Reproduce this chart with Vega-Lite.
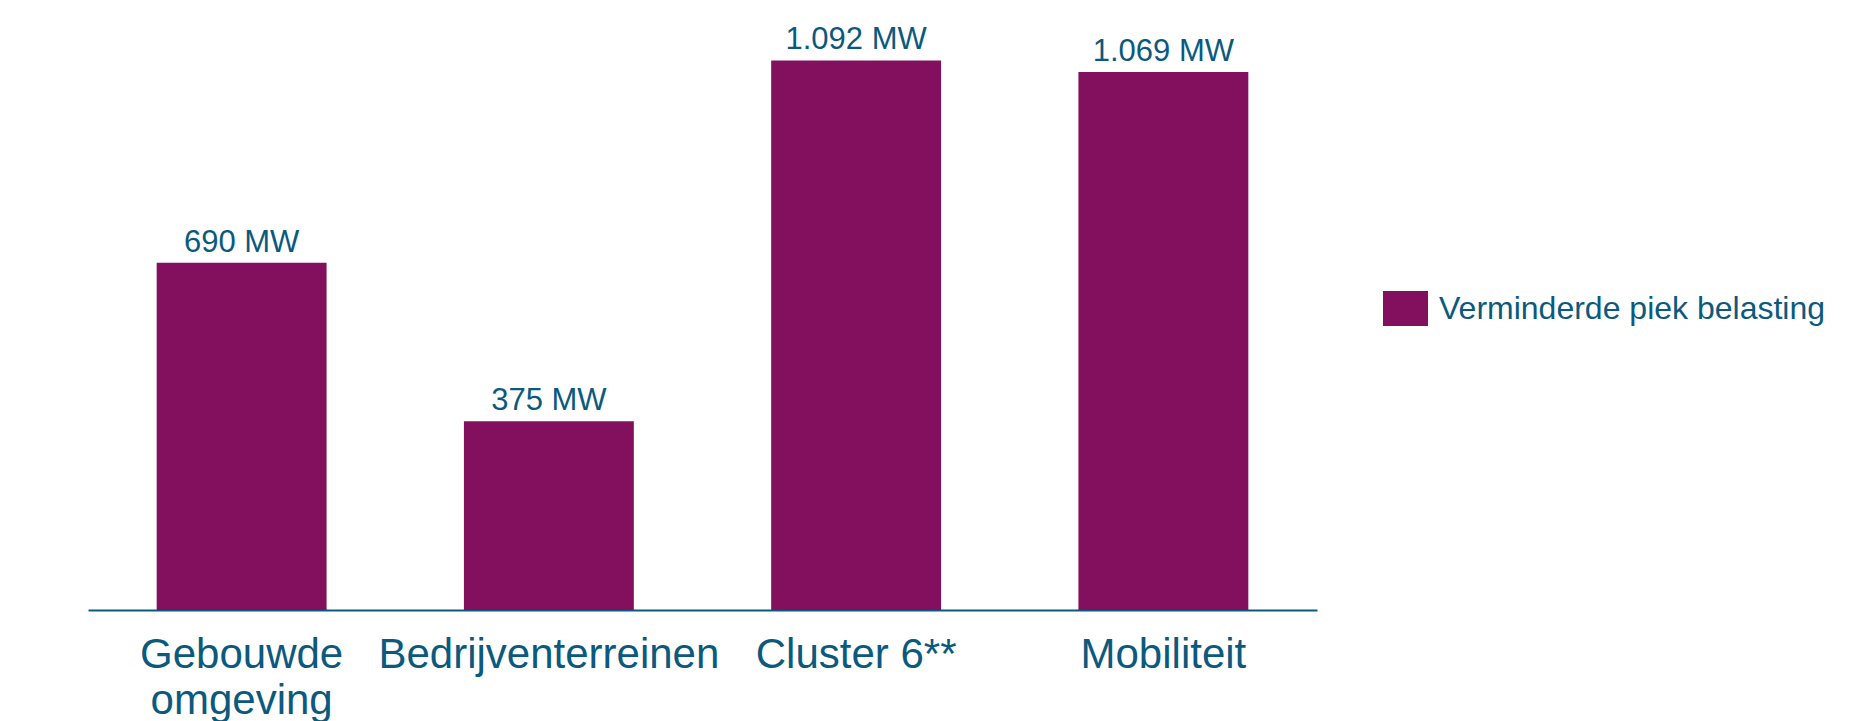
{
  "$schema": "https://vega.github.io/schema/vega-lite/v6.json",
  "width": 1229,
  "height": 610,
  "autosize": "none",
  "padding": {"left": 88, "top": 0, "right": 557, "bottom": 111},
  "background": "white",
  "data": {
    "values": [
      {"sector": "Gebouwde omgeving", "mw": 690, "label": "690 MW", "serie": "Verminderde piek belasting"},
      {"sector": "Bedrijventerreinen", "mw": 375, "label": "375 MW", "serie": "Verminderde piek belasting"},
      {"sector": "Cluster 6**", "mw": 1092, "label": "1.092 MW", "serie": "Verminderde piek belasting"},
      {"sector": "Mobiliteit", "mw": 1069, "label": "1.069 MW", "serie": "Verminderde piek belasting"}
    ]
  },
  "encoding": {
    "x": {
      "field": "sector",
      "type": "nominal",
      "sort": null,
      "scale": {"paddingInner": 0.447, "paddingOuter": 0.2235},
      "axis": {
        "title": null,
        "ticks": false,
        "grid": false,
        "labelAngle": 0,
        "labelPadding": 24,
        "labelFont": "Liberation Sans",
        "labelFontSize": 42,
        "labelColor": "#0B5A7E",
        "labelLineHeight": 46,
        "labelLimit": 0,
        "labelOverlap": false,
        "labelExpr": "datum.label == 'Gebouwde omgeving' ? ['Gebouwde', 'omgeving'] : datum.label",
        "domainColor": "#0B5A7E",
        "domainWidth": 2
      }
    },
    "y": {
      "field": "mw",
      "type": "quantitative",
      "scale": {"domain": [0, 1212], "nice": false, "zero": true},
      "axis": null
    }
  },
  "layer": [
    {
      "mark": {"type": "bar", "color": "#83105F"},
      "encoding": {
        "color": {
          "field": "serie",
          "type": "nominal",
          "scale": {"range": ["#83105F"]},
          "legend": {
            "title": null,
            "orient": "none",
            "legendX": 1295,
            "legendY": 286,
            "symbolType": "M-1,-0.778H1V0.778H-1Z",
            "symbolSize": 2025,
            "symbolStrokeWidth": 0,
            "symbolOpacity": 1,
            "labelFont": "Liberation Sans",
            "labelFontSize": 32,
            "labelColor": "#0B5A7E",
            "labelOffset": 11,
            "labelLimit": 0,
            "padding": 0
          }
        }
      }
    },
    {
      "mark": {
        "type": "text",
        "baseline": "alphabetic",
        "align": "center",
        "dy": -11,
        "font": "Liberation Sans",
        "fontSize": 31,
        "color": "#0B5A7E"
      },
      "encoding": {"text": {"field": "label"}}
    }
  ],
  "config": {"view": {"stroke": null}}
}
